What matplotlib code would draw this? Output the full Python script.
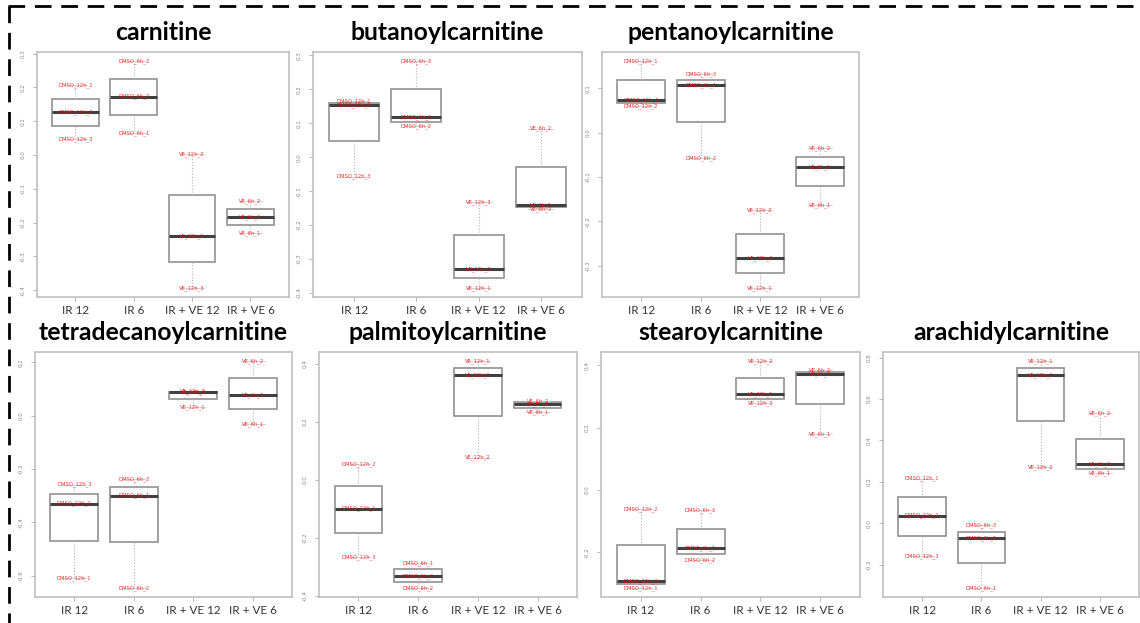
import numpy as np
import matplotlib
matplotlib.use("Agg")
from matplotlib import pyplot as plt
from matplotlib.lines import Line2D


groups = ["IR 12", "IR 6", "IR + VE 12", "IR + VE 6"]
samples = [
    ["DMSO_12h_1", "DMSO_12h_2", "DMSO_12h_3"],
    ["DMSO_6h_1", "DMSO_6h_2", "DMSO_6h_3"],
    ["VE_12h_1", "VE_12h_2", "VE_12h_3"],
    ["VE_6h_1", "VE_6h_2", "VE_6h_3"],
]

# values per group, in sample order (1, 2, 3)
carnitine = [[0.206, 0.126, 0.048], [0.066, 0.173, 0.278],
             [-0.240, 0.004, -0.393], [-0.231, -0.137, -0.183]]
butanoylcarnitine = [[0.164, 0.153, -0.057], [0.118, 0.091, 0.283],
                     [-0.385, -0.329, -0.131], [-0.140, 0.084, -0.152]]
pentanoylcarnitine = [[0.161, 0.059, 0.074], [0.106, -0.057, 0.132],
                      [-0.350, -0.174, -0.283], [-0.163, -0.035, -0.077]]
tetradecanoylcarnitine = [[-0.608, -0.330, -0.259], [-0.300, -0.646, -0.238],
                          [0.033, 0.091, 0.088], [-0.031, 0.204, 0.078]]
palmitoylcarnitine = [[-0.099, 0.055, -0.265], [-0.287, -0.372, -0.330],
                      [0.409, 0.077, 0.360], [0.233, 0.272, 0.261]]
stearoylcarnitine = [[-0.314, -0.061, -0.292], [-0.186, -0.225, -0.064],
                     [0.308, 0.414, 0.279], [0.180, 0.384, 0.373]]
arachidylcarnitine = [[0.216, 0.037, -0.158], [-0.313, -0.073, -0.011],
                      [0.784, 0.271, 0.715], [0.244, 0.534, 0.285]]

names = ["carnitine", "butanoylcarnitine", "pentanoylcarnitine",
         "tetradecanoylcarnitine", "palmitoylcarnitine",
         "stearoylcarnitine", "arachidylcarnitine"]
values = [carnitine, butanoylcarnitine, pentanoylcarnitine,
          tetradecanoylcarnitine, palmitoylcarnitine,
          stearoylcarnitine, arachidylcarnitine]
yticks = [
    [0.3, 0.2, 0.1, 0.0, -0.1, -0.2, -0.3, -0.4],
    [0.3, 0.2, 0.1, 0.0, -0.1, -0.2, -0.3, -0.4],
    [0.1, 0.0, -0.1, -0.2, -0.3],
    [0.2, 0.0, -0.2, -0.4, -0.6],
    [0.4, 0.2, 0.0, -0.2, -0.4],
    [0.4, 0.2, 0.0, -0.2],
    [0.8, 0.6, 0.4, 0.2, 0.0, -0.2],
]

W, H = 1140, 623
# panel frames in pixels: left, top, right, bottom
frames = [
    (37, 52, 289, 297), (313, 52, 582, 297), (602, 52, 859, 297),
    (35, 352, 292, 597), (319, 352, 577, 597), (601, 352, 860, 597),
    (883, 352, 1139, 597),
]

fig = plt.figure(figsize=(W / 100, H / 100), dpi=100)
fig.patch.set_facecolor("white")

boxcol = "#9a9a9a"
for name, vals, ticks, (l, t, r, b) in zip(names, values, yticks, frames):
    ax = fig.add_axes([l / W, 1 - b / H, (r - l) / W, (b - t) / H])
    pos = np.arange(1, len(groups) + 1)
    ax.boxplot(vals, positions=pos, widths=0.8, whis=(0, 100),
               patch_artist=True,
               boxprops=dict(facecolor="white", edgecolor=boxcol, linewidth=1.3),
               medianprops=dict(color="#404040", linewidth=2.2),
               whiskerprops=dict(color="#b0b0b0", linewidth=0.8, linestyle=":"),
               capprops=dict(color="#c8c8c8", linewidth=0.6),
               showfliers=False)
    for x, grp, labs in zip(pos, vals, samples):
        for v, lab in zip(grp, labs):
            ax.text(x, v, lab, color="red", fontsize=3.8, ha="center",
                    va="center", alpha=0.8)
    lo = min(min(g) for g in vals)
    hi = max(max(g) for g in vals)
    pad = (hi - lo) * 0.04
    ax.set_ylim(lo - pad, hi + pad)
    ax.set_xlim(0.34, 4.66)
    ax.set_yticks(ticks)
    ax.set_yticklabels(["%.1f" % v for v in ticks], rotation=90,
                       va="center", fontsize=4, color="#888888")
    ax.set_xticks(pos)
    ax.set_xticklabels(groups, fontsize=8.4, color="#333333", family="Lato")
    ax.tick_params(axis="y", length=3, width=0.6, color="#aaaaaa", pad=5)
    ax.tick_params(axis="x", length=3, width=0.6, color="#aaaaaa", pad=3)
    for s in ax.spines.values():
        s.set_color("#c0c0c0")
        s.set_linewidth(1.2)
    cx = (l + r) / 2 / W
    ty = 1 - (t - 19) / H
    fig.text(cx, ty, name, ha="center", va="center", fontsize=17.8,
             fontweight="bold", family="Lato", color="black")

# dashed frame around the figure content
dash = dict(color="black", linewidth=2, linestyle=(0, (6, 3.5)))
fig.add_artist(Line2D([8 / W, 1140 / W], [1 - 6 / H, 1 - 6 / H],
                      transform=fig.transFigure, **dash))
fig.add_artist(Line2D([9 / W, 9 / W], [1 - 6 / H, 0],
                      transform=fig.transFigure, **dash))

fig.savefig("out.png", dpi=100)
